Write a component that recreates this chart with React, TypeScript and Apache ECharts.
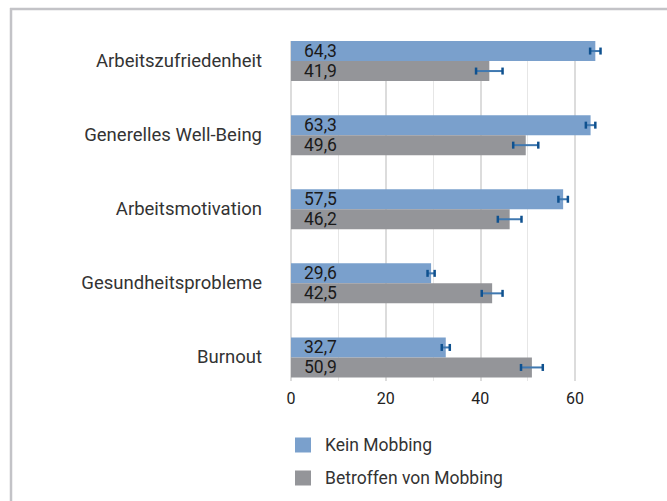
import React, { useEffect, useRef } from "react";
import * as echarts from "echarts";

const categories = [
  "Arbeitszufriedenheit",
  "Generelles Well-Being",
  "Arbeitsmotivation",
  "Gesundheitsprobleme",
  "Burnout",
];
const seriesNames = ["Kein Mobbing", "Betroffen von Mobbing"];
const keinMobbing = [64.3, 63.3, 57.5, 29.6, 32.7];
const betroffen = [41.9, 49.6, 46.2, 42.5, 50.9];
const keinErr = [1.1, 1.0, 1.0, 0.75, 0.85];
const betroffenErr = [2.8, 2.65, 2.5, 2.2, 2.3];
const xTickLabels = [0, 20, 40, 60];

const BLUE = "#7aa0cc";
const GRAY = "#949599";
const BAR_W = 20;
const GRID_LEFT = 291;
const GRID_W = 331.3;

const fmt = (v: number) => String(v).replace(".", ",");

function errorSeries(name: string, vals: number[], errs: number[], offset: number) {
  return {
    type: "custom",
    name: name + " err",
    xAxisIndex: 0,
    yAxisIndex: 0,
    z: 5,
    silent: true,
    encode: { x: [0, 1], y: 2 },
    data: vals.map((v, i) => [v - errs[i], v + errs[i], i]),
    renderItem: (params: any, api: any) => {
      const lo = api.coord([api.value(0), api.value(2)]);
      const hi = api.coord([api.value(1), api.value(2)]);
      const y = lo[1] + offset;
      const capH = 3.5;
      return {
        type: "group",
        children: [
          {
            type: "line",
            shape: { x1: lo[0], y1: y, x2: hi[0], y2: y },
            style: { stroke: "#3f78b0", lineWidth: 2 },
          },
          {
            type: "line",
            shape: { x1: lo[0], y1: y - capH, x2: lo[0], y2: y + capH },
            style: { stroke: "#0f518f", lineWidth: 2.5 },
          },
          {
            type: "line",
            shape: { x1: hi[0], y1: y - capH, x2: hi[0], y2: y + capH },
            style: { stroke: "#0f518f", lineWidth: 2.5 },
          },
        ],
      };
    },
  };
}

export default function App() {
  const ref = useRef<HTMLDivElement>(null);
  useEffect(() => {
    if (!ref.current) return;
    const chart = echarts.init(ref.current, null, { renderer: "svg" });
    const font = "Roboto, 'Noto Sans', sans-serif";
    chart.setOption({
      animation: false,
      backgroundColor: "#ffffff",
      textStyle: { fontFamily: font },
      graphic: [
        {
          type: "line",
          z: -10,
          shape: { x1: 11, y1: 8, x2: 11, y2: 501 },
          style: { stroke: "#c3c3c7", lineWidth: 2.5 },
        },
        {
          type: "line",
          z: -10,
          shape: { x1: 10, y1: 9, x2: 667, y2: 9 },
          style: { stroke: "#c3c3c7", lineWidth: 2.5 },
        },
      ],
      legend: {
        orient: "vertical",
        left: 290,
        top: 431,
        itemWidth: 16,
        itemHeight: 15,
        itemGap: 15,
        icon: "rect",
        data: seriesNames,
        textStyle: {
          fontFamily: font,
          fontSize: 17.5,
          color: "#333333",
          padding: [0, 0, 0, 9],
        },
      },
      grid: [
        { left: GRID_LEFT, width: GRID_W, top: 24, height: 370.5 },
        { left: GRID_LEFT, width: GRID_W, top: 41, height: 340 },
      ],
      xAxis: [
        { type: "value", gridIndex: 0, min: 0, max: 70, show: false },
        {
          type: "value",
          gridIndex: 1,
          min: 0,
          max: 70,
          interval: 10,
          axisLine: { show: false },
          axisTick: { show: false },
          axisLabel: { show: false },
          splitLine: {
            show: true,
            showMaxLine: false,
            lineStyle: { color: "#e6e6e6", width: 1 },
          },
        },
        {
          type: "value",
          gridIndex: 1,
          position: "bottom",
          min: 0,
          max: 70,
          interval: 20,
          axisLine: { show: false },
          axisTick: { show: false },
          axisLabel: {
            show: true,
            margin: 9,
            fontSize: 16,
            color: "#222222",
            fontFamily: font,
            showMaxLabel: false,
            formatter: (v: number) => (xTickLabels.includes(v) ? String(v) : ""),
          },
          splitLine: {
            show: true,
            showMaxLine: false,
            lineStyle: { color: "#dcdcdc", width: 2 },
          },
        },
      ],
      yAxis: [
        {
          type: "category",
          gridIndex: 0,
          data: categories,
          inverse: true,
          axisLine: { show: false },
          axisTick: { show: false },
          splitLine: { show: false },
          axisLabel: {
            margin: 29,
            fontSize: 18.5,
            color: "#333333",
            fontFamily: font,
          },
        },
        { type: "value", gridIndex: 1, show: false },
      ],
      series: [
        {
          type: "bar",
          name: seriesNames[0],
          xAxisIndex: 0,
          yAxisIndex: 0,
          data: keinMobbing,
          barWidth: BAR_W,
          barGap: "0%",
          itemStyle: { color: BLUE },
          label: {
            show: true,
            position: "insideLeft",
            distance: 13,
            fontSize: 17.5,
            color: "#1a1a1a",
            fontFamily: font,
            formatter: (p: any) => fmt(p.value),
          },
        },
        {
          type: "bar",
          name: seriesNames[1],
          xAxisIndex: 0,
          yAxisIndex: 0,
          data: betroffen,
          barWidth: BAR_W,
          barGap: "0%",
          itemStyle: { color: GRAY },
          label: {
            show: true,
            position: "insideLeft",
            distance: 13,
            fontSize: 17.5,
            color: "#1a1a1a",
            fontFamily: font,
            formatter: (p: any) => fmt(p.value),
          },
        },
        errorSeries(seriesNames[0], keinMobbing, keinErr, -BAR_W / 2),
        errorSeries(seriesNames[1], betroffen, betroffenErr, BAR_W / 2),
      ],
    });
    return () => chart.dispose();
  }, []);
  return (
    <div style={{ position: "absolute", left: 0, top: 0 }}>
      <div ref={ref} style={{ width: 667, height: 501 }} />
    </div>
  );
}
